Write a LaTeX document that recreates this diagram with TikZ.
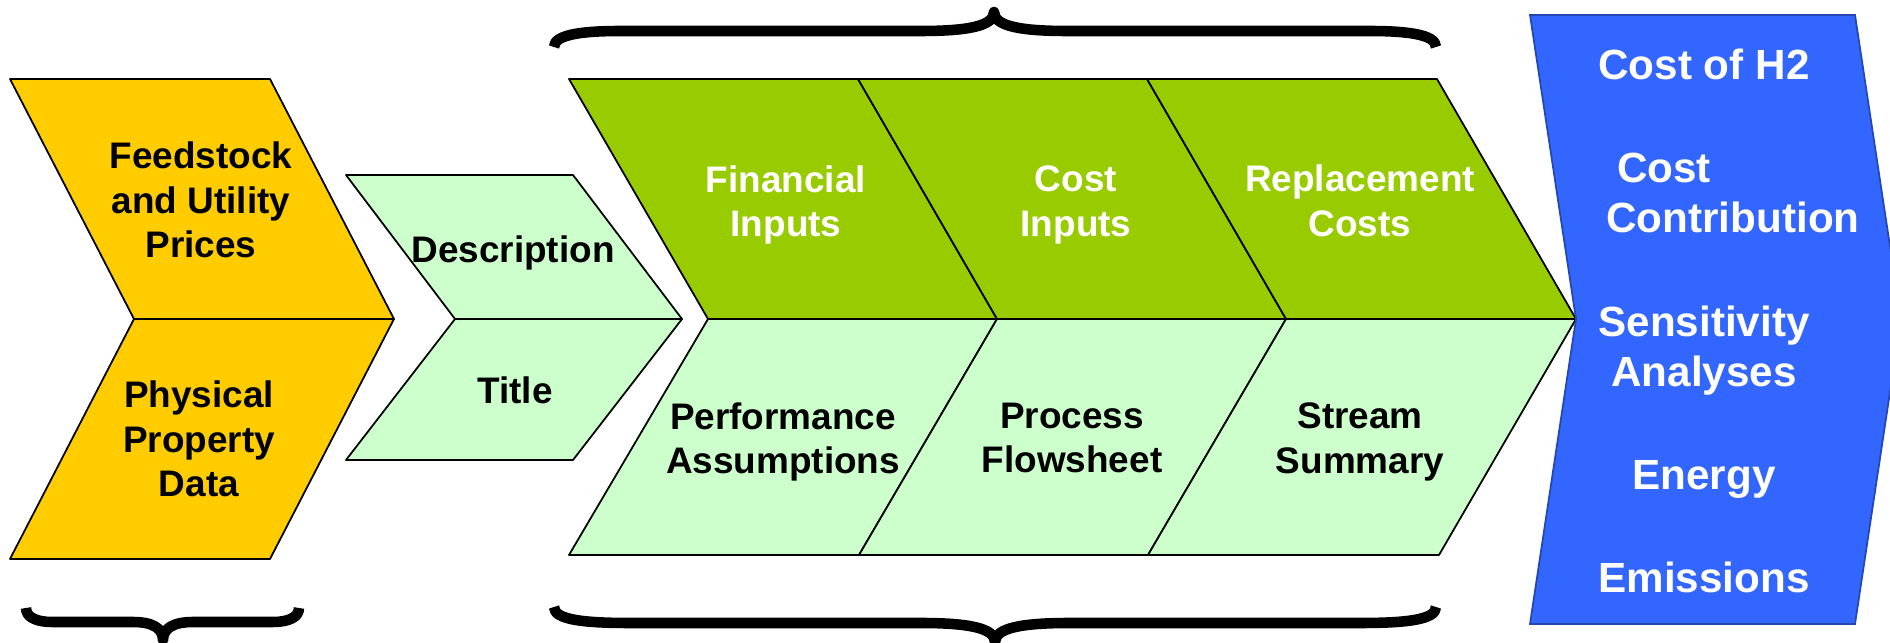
\documentclass[tikz,border=0pt]{standalone}
\usepackage{fontspec}
\setmainfont{Liberation Sans}
\definecolor{feedyellow}{HTML}{FFCC00}
\definecolor{inputgreen}{HTML}{99CC00}
\definecolor{palegreen}{HTML}{CCFFCC}
\definecolor{resultblue}{HTML}{3366FF}

\begin{document}
\begin{tikzpicture}[
        x = 0.01cm, y = -0.01cm,
    piece/.style = {draw=black, line width=0.5pt, line join=round},
  boxtext/.style = {font=\bfseries\fontsize{10.5}{12.7}\selectfont,
                    align=center, inner sep=0pt},
   result/.style = {font=\bfseries\fontsize{12}{14.2}\selectfont,
                    text=white, align=center, inner sep=0pt},
    curly/.style = {line width=3pt, line join=round}
                    ]
\useasboundingbox (0,0) rectangle (1890,643);
% feedstock chevron
    \filldraw[piece, fill=feedyellow] (10,79) -- (270,79) -- (394,319) -- (134,319) -- cycle;
    \filldraw[piece, fill=feedyellow] (134,319) -- (394,319) -- (270,559) -- (10,559) -- cycle;
% description chevron
    \filldraw[piece, fill=palegreen] (346,175) -- (573,175) -- (682,319) -- (455,319) -- cycle;
    \filldraw[piece, fill=palegreen] (455,319) -- (682,319) -- (573,460) -- (346,460) -- cycle;
% input chevrons, top row
    \filldraw[piece, fill=inputgreen] (569,79) -- (858,79) -- (997,319) -- (708,319) -- cycle;
    \filldraw[piece, fill=inputgreen] (858,79) -- (1147,79) -- (1286,319) -- (997,319) -- cycle;
    \filldraw[piece, fill=inputgreen] (1147,79) -- (1437,79) -- (1576,319) -- (1286,319) -- cycle;
% input chevrons, bottom row
    \filldraw[piece, fill=palegreen] (708,319) -- (997,319) -- (859,555) -- (569,555) -- cycle;
    \filldraw[piece, fill=palegreen] (997,319) -- (1286,319) -- (1148,555) -- (859,555) -- cycle;
    \filldraw[piece, fill=palegreen] (1286,319) -- (1576,319) -- (1439,555) -- (1148,555) -- cycle;
% results
    \filldraw[fill=resultblue, draw=resultblue!70!black, line width=0.5pt]
        (1530,15) -- (1855,15) -- (1901,319) -- (1855,624) -- (1530,624) -- (1576,319) -- cycle;
% texts
\node[boxtext] (feed)  at (201,200) {Feedstock\\and Utility\\Prices};
\node[boxtext] (phys)  at (199,439) {Physical\\Property\\Data};
\node[boxtext] (desc)  at (513,253) {Description};
\node[boxtext] (title) at (515,390) {Title};
\node[boxtext, text=white] (fin)  at (786,205)  {Financial\\Inputs};
\node[boxtext, text=white] (cost) at (1076,205) {Cost\\Inputs};
\node[boxtext, text=white] (repl) at (1360,201) {Replacement\\Costs};
\node[boxtext] (perf) at (783,442)  {Performance\\Assumptions};
\node[boxtext] (proc) at (1072,438) {Process\\Flowsheet};
\node[boxtext] (strm) at (1360,442) {Stream\\Summary};
\node[result] (h2)      at (1704,64)  {Cost of H2};
\node[result, align=left] (contrib) at (1733,193) {\hspace*{3pt}Cost\\Contribution};
\node[result] (sens)    at (1704,351) {Sensitivity\\Analyses};
\node[result] (energy)  at (1704,479) {Energy};
\node[result] (emis)    at (1704,577) {Emissions};
% braces
\draw[curly] (554,47) .. controls (554,34) and (585,31) .. (621,31) -- (921,31)
    .. controls (968,31) and (994,26) .. (994,12)
    .. controls (994,26) and (1020,31) .. (1067,31) -- (1369,31)
    .. controls (1405,31) and (1436,34) .. (1436,47);
\draw[curly] (554,607) .. controls (554,620) and (585,623) .. (630,623) -- (921,623)
    .. controls (968,623) and (995,628) .. (995,642)
    .. controls (995,628) and (1022,623) .. (1069,623) -- (1360,623)
    .. controls (1405,623) and (1436,620) .. (1436,607);
\draw[curly] (26,608) .. controls (26,618) and (38,622) .. (52,622) -- (133,622)
    .. controls (152,622) and (163,628) .. (163,640)
    .. controls (163,628) and (174,622) .. (193,622) -- (273,622)
    .. controls (287,622) and (299,618) .. (299,608);
\end{tikzpicture}
\end{document}
